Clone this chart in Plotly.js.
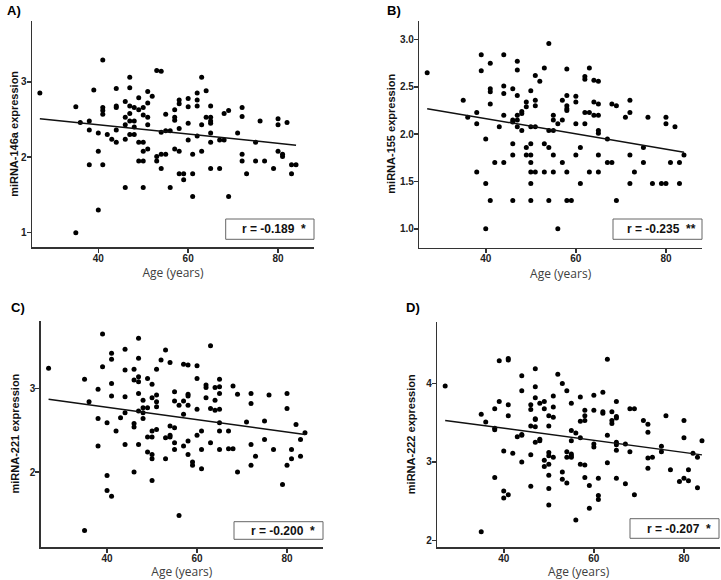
<!DOCTYPE html>
<html>
<head>
<meta charset="utf-8">
<script src="https://cdn.plot.ly/plotly-3.0.1.min.js"></script>
<style>html,body{margin:0;padding:0;background:#fff;}#chart{width:721px;height:580px;}</style>
</head>
<body>
<div id="chart"></div>
<script>
// ---------- data ----------
const ageA = [27,35,35,36,38,38,38,39,40,40,40,41,41,41,41,41,42,43,44,44,44,44,44,46,46,46,46,46,47,47,47,47,47,47,48,48,48,48,49,49,49,49,50,50,50,50,50,50,51,51,51,51,51,52,53,53,53,54,54,54,54,55,55,55,56,56,57,57,57,57,58,58,58,58,58,59,59,60,60,60,60,61,61,61,62,62,62,62,63,63,63,64,64,65,65,65,65,65,65,65,67,67,68,68,69,69,71,72,72,72,72,73,75,75,76,77,79,80,80,80,81,81,82,83,83,84];
const mirA = [2.85,2.67,1.00,2.46,2.48,2.36,1.90,2.89,2.32,2.08,1.30,3.29,2.66,2.62,2.57,1.90,2.30,2.24,2.91,2.68,2.66,2.36,2.20,2.74,2.53,2.43,2.24,1.60,3.06,2.92,2.68,2.58,2.48,2.30,2.66,2.48,2.40,2.30,2.79,2.63,2.20,1.95,2.66,2.56,2.20,2.08,1.95,1.60,2.87,2.72,2.53,2.43,2.11,2.81,3.15,2.01,1.95,3.14,2.33,2.04,1.85,2.57,2.35,2.04,2.35,1.60,2.63,2.53,2.49,2.11,2.76,2.71,2.38,2.08,1.78,1.78,1.70,2.78,2.67,2.45,2.23,2.04,1.78,1.48,2.85,2.76,2.68,2.28,3.06,2.43,2.08,2.88,2.53,2.68,2.53,2.48,2.45,2.32,2.20,1.85,2.23,1.85,2.58,2.23,2.62,1.48,2.32,2.66,2.54,2.04,1.95,1.78,2.20,1.95,2.48,1.95,1.85,2.51,2.43,2.08,2.04,2.01,2.46,1.90,1.78,1.90];

const ageB = [27,35,36,38,38,38,39,39,40,40,40,41,41,41,41,41,42,43,44,44,44,44,44,46,46,46,46,46,46,47,47,47,47,47,47,48,48,48,49,49,49,49,50,50,50,50,50,50,50,50,51,51,51,51,51,52,53,53,53,54,54,54,54,55,55,55,55,55,56,56,57,57,57,58,58,58,58,58,58,58,59,60,60,60,60,61,61,62,62,62,62,63,63,63,64,64,64,65,65,65,65,65,65,65,67,67,68,68,69,69,71,72,72,72,72,73,75,75,76,77,79,80,80,80,81,82,83,83,84];
const mirB = [2.65,2.36,2.18,2.23,2.11,1.60,2.84,2.67,1.95,1.48,1.00,2.75,2.48,2.45,2.32,1.30,1.70,2.08,2.84,2.51,2.43,2.20,1.70,2.48,2.15,2.13,1.90,1.78,1.30,2.77,2.68,2.41,2.20,2.15,2.08,2.24,2.22,2.04,2.34,2.29,1.86,1.78,2.46,2.08,1.90,1.78,1.70,1.60,1.48,1.30,2.62,2.36,2.30,2.08,1.60,2.56,2.70,1.90,1.60,2.96,2.04,1.86,1.30,2.20,2.15,2.04,1.78,1.60,2.11,1.00,2.36,2.15,1.70,2.69,2.41,2.30,2.27,2.25,1.60,1.30,1.30,2.40,2.34,2.11,1.78,1.86,1.48,2.61,2.58,2.23,2.11,2.70,2.23,1.60,2.57,2.34,2.20,2.56,2.32,2.20,2.04,2.01,1.78,1.60,1.95,1.70,2.32,1.70,2.30,1.30,2.18,2.36,2.23,1.78,1.48,1.60,1.86,1.70,2.18,1.48,1.48,2.18,2.11,1.48,1.70,2.08,1.70,1.48,1.78];

const ageC = [27,35,35,36,38,38,38,39,39,40,40,40,41,41,41,41,41,42,43,44,44,44,44,44,46,46,46,46,46,47,47,47,47,47,47,47,48,48,48,48,49,49,49,49,50,50,50,50,50,50,50,51,51,51,51,51,52,53,53,53,54,54,54,54,55,55,55,55,55,56,56,57,57,57,57,58,58,58,58,58,58,59,59,60,60,60,60,61,61,61,62,62,62,63,63,63,64,64,64,65,65,65,65,65,65,65,67,67,68,68,69,69,71,72,72,72,72,73,75,75,76,77,79,80,80,80,81,81,82,83,83,84];
const mirC = [3.24,3.11,1.30,2.84,2.99,2.64,2.31,3.65,3.26,2.59,1.96,1.78,3.42,3.35,3.06,2.91,1.71,2.49,2.65,3.47,3.22,2.90,2.71,2.33,3.23,3.10,2.58,2.54,2.00,3.60,3.36,3.14,3.08,2.94,2.73,2.33,2.86,2.77,2.71,2.64,3.12,2.77,2.42,2.24,3.05,2.89,2.49,2.42,2.21,2.16,1.90,3.23,2.92,2.84,2.78,2.51,3.34,3.46,2.41,2.16,3.31,2.55,2.44,2.42,2.96,2.85,2.53,2.35,2.27,2.80,1.48,3.29,2.85,2.69,2.31,3.28,2.93,2.91,2.80,2.37,2.21,2.12,2.08,3.27,3.12,2.75,2.44,2.49,2.27,2.04,3.04,3.01,2.89,3.51,2.76,2.35,3.01,2.86,2.74,3.11,3.02,2.94,2.75,2.59,2.49,2.27,2.49,2.28,3.03,2.28,2.93,2.00,2.60,2.94,2.82,2.33,2.08,2.19,2.61,2.39,2.92,2.27,1.85,2.94,2.76,2.08,2.27,2.16,2.57,2.39,2.19,2.47];

const ageD = [27,35,35,36,38,38,38,38,39,39,40,40,40,41,41,41,41,41,42,43,44,44,44,44,44,46,46,46,46,46,47,47,47,47,47,47,47,48,48,48,49,49,49,49,50,50,50,50,50,50,50,50,51,51,51,51,52,53,53,53,54,54,54,54,55,55,55,55,55,55,56,56,57,57,57,57,58,58,58,58,58,59,59,60,60,60,60,61,61,61,62,62,62,63,63,63,64,64,64,65,65,65,65,65,65,65,67,67,68,68,69,69,71,72,72,72,72,73,75,75,76,77,79,80,80,80,81,81,82,83,83,84];
const mirD = [3.97,3.61,2.11,3.51,3.68,3.43,3.41,2.80,4.29,3.77,3.14,2.63,2.54,4.32,4.30,3.73,3.59,2.58,3.11,3.32,4.10,3.91,3.35,3.34,3.00,3.73,3.67,3.46,3.09,2.69,4.19,3.96,3.82,3.55,3.54,3.45,3.25,3.75,3.29,3.27,3.77,3.68,3.02,2.94,3.59,3.46,3.12,3.08,2.97,2.83,2.66,2.45,3.84,3.70,3.57,3.06,4.12,4.00,2.87,2.78,3.91,3.13,3.06,2.73,3.75,3.40,3.27,3.10,3.08,3.06,3.37,2.26,3.83,3.52,3.31,2.97,3.66,3.59,3.53,2.96,2.80,2.70,2.41,3.85,3.66,3.23,3.19,2.79,2.57,2.52,3.89,3.64,3.62,4.31,3.34,2.99,3.64,3.53,3.49,3.77,3.58,3.56,3.25,3.22,3.15,2.79,3.23,2.72,3.68,3.13,3.68,2.58,3.53,3.48,3.38,3.05,2.92,3.06,3.20,3.13,3.59,2.90,2.75,3.53,3.31,2.79,2.90,2.76,3.11,3.06,2.67,3.27];

// regression lines (end points)
const fitAge = [27, 84];
const fitA = [2.51, 2.16];
const fitB = [2.27, 1.81];
const fitC = [2.87, 2.45];
const fitD = [3.53, 3.09];

const xTicks = [40, 60, 80];
const yTicksA = [1, 2, 3];
const yTicksB = [1.0, 1.5, 2.0, 2.5, 3.0];
const yTicksC = [2, 3];
const yTicksD = [2, 3, 4];

const panelLabels = ['A)', 'B)', 'C)', 'D)'];
const yTitles = ['miRNA-146a expression', 'miRNA-155 expression', 'miRNA-221 expression', 'miRNA-222 expression'];
const rTexts = ['r = -0.189  *', 'r = -0.235  **', 'r = -0.200  *', 'r = -0.207  *'];

// ---------- layout helpers ----------
const W = 721, H = 580;
const px = v => v / W;
const py = v => 1 - v / H;

const AX = '#333333';
const tickFont = {family: 'Liberation Sans, Arial, sans-serif', size: 10, color: '#222', weight: 'bold'};

function xAxis(x0, x1, anchor) {
  return {
    domain: [px(x0), px(x1)], anchor: anchor,
    range: [25.25, 88.0], tickvals: xTicks, ticks: 'outside', ticklen: 4, tickwidth: 1.5, tickcolor: AX,
    ticklabelstandoff: -3,
    showline: true, linecolor: AX, linewidth: 1.5, showgrid: false, zeroline: false,
    tickfont: tickFont,
    title: {text: 'Age (years)', standoff: 6, font: {family: 'Open Sans, sans-serif', size: 12, color: '#404040'}}
  };
}
function yAxis(y0, y1, anchor, range, vals, fmt) {
  return {
    domain: [py(y1), py(y0)], anchor: anchor,
    range: range, tickvals: vals, tickformat: fmt, ticks: 'outside', ticklen: 4, tickwidth: 1.5, tickcolor: AX,
    ticklabelstandoff: -2,
    showline: true, linecolor: AX, linewidth: 1.5, showgrid: false, zeroline: false,
    tickfont: tickFont
  };
}

const mk = {color: '#000', size: 5};
const ln = {color: '#111', width: 1.5};
const traces = [
  {x: ageA, y: mirA, xaxis: 'x', yaxis: 'y', mode: 'markers', type: 'scatter', marker: mk},
  {x: fitAge, y: fitA, xaxis: 'x', yaxis: 'y', mode: 'lines', type: 'scatter', line: ln},
  {x: ageB, y: mirB, xaxis: 'x2', yaxis: 'y2', mode: 'markers', type: 'scatter', marker: mk},
  {x: fitAge, y: fitB, xaxis: 'x2', yaxis: 'y2', mode: 'lines', type: 'scatter', line: ln},
  {x: ageC, y: mirC, xaxis: 'x3', yaxis: 'y3', mode: 'markers', type: 'scatter', marker: mk},
  {x: fitAge, y: fitC, xaxis: 'x3', yaxis: 'y3', mode: 'lines', type: 'scatter', line: ln},
  {x: ageD, y: mirD, xaxis: 'x4', yaxis: 'y4', mode: 'markers', type: 'scatter', marker: mk},
  {x: fitAge, y: fitD, xaxis: 'x4', yaxis: 'y4', mode: 'lines', type: 'scatter', line: ln}
];

// panel pixel boxes [left, top, right, bottom]
const P = [[32, 20.7, 314, 247], [419.3, 20.7, 702, 247.7], [40.7, 320.7, 323, 547.3], [437.3, 321.7, 720, 547.3]];
// r boxes [left, top, right, bottom]
const R = [[225.7, 219, 314, 239.3], [613, 219, 702, 239.3], [234, 521.7, 323, 539.3], [630, 518.7, 719, 538.3]];
const labelPos = [[14, 10], [394, 10], [18, 307], [413, 307]];
const yTitleX = [14, 391.5, 14.5, 410.7];

const annotations = [];
const shapes = [];
for (let i = 0; i < 4; i++) {
  annotations.push({xref: 'paper', yref: 'paper', x: px(labelPos[i][0]), y: py(labelPos[i][1]), text: panelLabels[i],
    showarrow: false, xanchor: 'center', yanchor: 'middle', font: {family: 'Liberation Sans, Arial, sans-serif', size: 13, color: '#000', weight: 'bold'}});
  annotations.push({xref: 'paper', yref: 'paper', x: px(yTitleX[i]), y: py((P[i][1] + P[i][3]) / 2), text: yTitles[i],
    textangle: -90, showarrow: false, xanchor: 'center', yanchor: 'middle', font: {family: 'Liberation Sans, Arial, sans-serif', size: 11, color: '#111', weight: 'bold'}});
  shapes.push({type: 'rect', xref: 'paper', yref: 'paper', x0: px(R[i][0]), x1: px(R[i][2]), y0: py(R[i][3]), y1: py(R[i][1]),
    line: {color: '#666', width: 1}, fillcolor: 'rgba(0,0,0,0)'});
  annotations.push({xref: 'paper', yref: 'paper', x: px((R[i][0] + R[i][2]) / 2 + 4), y: py((R[i][1] + R[i][3]) / 2), text: rTexts[i].replace(/  /g, '&nbsp;&nbsp;'),
    showarrow: false, xanchor: 'center', yanchor: 'middle', font: {family: 'Liberation Sans, Arial, sans-serif', size: 12, color: '#111', weight: 'bold'}});
}

const layout = {
  width: W, height: H, margin: {l: 0, r: 0, t: 0, b: 0},
  paper_bgcolor: '#fff', plot_bgcolor: '#fff', showlegend: false,
  xaxis: xAxis(P[0][0], P[0][2], 'y'),
  yaxis: yAxis(P[0][1], P[0][3], 'x', [0.81, 3.81], yTicksA, ''),
  xaxis2: xAxis(P[1][0], P[1][2], 'y2'),
  yaxis2: yAxis(P[1][1], P[1][3], 'x2', [0.80, 3.20], yTicksB, '.1f'),
  xaxis3: xAxis(P[2][0], P[2][2], 'y3'),
  yaxis3: yAxis(P[2][1], P[2][3], 'x3', [1.10, 3.81], yTicksC, ''),
  xaxis4: xAxis(P[3][0], P[3][2], 'y4'),
  yaxis4: yAxis(P[3][1], P[3][3], 'x4', [1.91, 4.79], yTicksD, ''),
  annotations: annotations, shapes: shapes
};

Plotly.newPlot('chart', traces, layout, {displayModeBar: false, staticPlot: true});
</script>
</body>
</html>
